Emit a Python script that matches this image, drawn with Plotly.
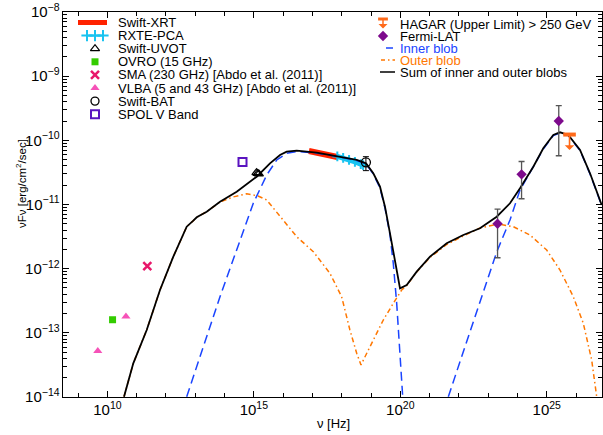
import numpy as np
import plotly.graph_objects as go

# ---------------- data ----------------
# Model curves, log10(nu/Hz) and log10(nuFnu / erg cm^-2 s^-1)
sum_log_nu = [10.567, 10.884, 11.342, 11.796, 12.250, 12.591, 12.707, 12.933, 13.049, 13.390, 13.844, 14.414,
              15.097, 15.551, 15.893, 16.121, 16.463, 17.146, 17.941, 18.512, 18.829, 19.078,
              19.307, 19.477, 19.648, 19.819, 19.990, 20.219, 20.560, 21.014, 21.584, 22.151,
              22.721, 23.291, 23.745, 24.087, 24.541, 24.882, 25.224, 25.453, 25.736, 26.136,
              26.477, 26.876]
sum_log_flux = [-13.995, -13.475, -12.956, -12.333, -11.813, -11.449, -11.346, -11.252, -11.199, -11.112, -10.956, -10.800,
                -10.567, -10.358, -10.228, -10.177, -10.161, -10.193, -10.255, -10.306, -10.358, -10.514,
                -10.722, -11.034, -11.449, -11.865, -12.306, -12.254, -12.047, -11.813, -11.605, -11.475,
                -11.370, -11.190, -10.981, -10.747, -10.411, -10.124, -9.917, -9.875, -9.917, -10.151,
                -10.514, -11.008]

inner_sync_log_nu = [12.707, 13.844, 14.981, 15.439, 15.780, 16.121, 16.463, 17.146, 17.941, 18.512,
                     18.829, 19.078, 19.307, 19.477, 19.648, 19.760, 19.877, 19.990, 20.082]
inner_sync_log_flux = [-13.995, -12.437, -10.981, -10.540, -10.306, -10.202, -10.174, -10.197, -10.260, -10.314,
                       -10.369, -10.525, -10.743, -11.054, -11.475, -11.916, -12.540, -13.319, -13.995]
inner_ic_log_nu = [21.639, 22.721, 23.291, 23.745, 24.087, 24.541, 24.882, 25.224, 25.453, 25.736,
                   26.136, 26.477, 26.876]
inner_ic_log_flux = [-13.995, -12.540, -11.740, -11.241, -10.774, -10.411, -10.135, -9.925, -9.886, -9.925,
                     -10.158, -10.524, -11.016]

outer_log_nu = [10.567, 10.884, 11.342, 11.796, 12.250, 12.591, 12.707, 12.933, 13.049, 13.390, 13.844, 14.288,
                14.756, 15.142, 15.439, 15.951, 16.463, 17.030, 17.597, 17.997, 18.280, 18.511,
                18.658, 18.965, 19.420, 19.761, 20.048, 20.219, 20.560, 21.014, 21.584, 22.151,
                22.721, 23.346, 23.858, 24.428, 24.998, 25.452, 25.906, 26.248, 26.534, 26.705]
outer_log_flux = [-13.995, -13.475, -12.956, -12.333, -11.813, -11.449, -11.346, -11.252, -11.199, -11.112, -10.961, -10.883,
                  -10.833, -10.867, -10.930, -11.215, -11.502, -11.735, -12.072, -12.437, -12.956, -13.319,
                  -13.501, -13.216, -12.800, -12.540, -12.332, -12.262, -12.052, -11.826, -11.623, -11.491,
                  -11.366, -11.304, -11.346, -11.475, -11.709, -12.021, -12.437, -12.851, -13.423, -13.995]

# Observations (nu in Hz, nuFnu in erg/cm^2/s)
xrt_nu = [7.59e16, 1.58e17, 3.16e17, 7.08e17]
xrt_flux = [6.82e-11, 6.46e-11, 6.03e-11, 5.50e-11]
pca_nu = [7.08e17, 1.12e18, 1.78e18, 2.82e18, 4.47e18, 5.37e18]
pca_flux = [5.62e-11, 5.31e-11, 4.95e-11, 4.62e-11, 4.27e-11, 4.12e-11]
uvot_nu = [1.23e15, 1.35e15, 1.48e15]
uvot_flux = [3.13e-11, 3.05e-11, 2.99e-11]
ovro_nu = [1.5e10]
ovro_flux = [1.6e-13]
sma_nu = [2.3e11]
sma_flux = [1.1e-12]
vlba_nu = [4.7e9, 4.3e10]
vlba_flux = [5.2e-14, 1.8e-13]
bat_nu = [6.7e18]
bat_flux = [4.55e-11]
bat_hi = [5.56e-11]
bat_lo = [3.37e-11]
spol_nu = [4.1e14]
spol_flux = [4.6e-11]
lat_nu = [2.09e23, 1.38e24, 2.57e25]
lat_flux = [5.0e-12, 2.95e-11, 2.0e-10]
lat_hi = [8.5e-12, 4.68e-11, 3.47e-10]
lat_lo = [1.48e-12, 1.23e-11, 5.75e-11]
hagar_nu = [6.0e25]
hagar_ul = [1.23e-10]

left_legend = ["Swift-XRT", "RXTE-PCA", "Swift-UVOT", "OVRO (15 GHz)",
               "SMA (230 GHz) [Abdo et al. (2011)]", "VLBA (5 and 43 GHz) [Abdo et al. (2011)]",
               "Swift-BAT", "SPOL V Band"]
right_legend = ["HAGAR (Upper Limit) > 250 GeV", "Fermi-LAT", "Inner blob", "Outer blob",
                "Sum of inner and outer blobs"]
x_title = "ν [Hz]"
y_title = "νFν [erg/cm<sup>2</sup>/sec]"

# ---------------- styles ----------------
RED = "#ff2200"
CYAN = "#19c3f0"
GREEN = "#33cc00"
MAGENTA = "#e8176a"
PINK = "#f652b8"
PURPLE_SQ = "#5a14c0"
ORANGE_UL = "#ff6a1a"
FERMI = "#7d0a8c"
BLUE = "#1a44ff"
ORANGE = "#ff7700"
FONT = "Liberation Sans, Arial, sans-serif"

W, H = 603, 435
L, R, T, B = 63, 1, 12, 38
X0, X1 = L, W - R
Y0, Y1 = T, H - B
PW, PH = X1 - X0, Y1 - Y0

def px2paper_x(px):
    return (px - X0) / PW

def px2paper_y(py):
    return 1 - (py - Y0) / PH

fig = go.Figure()

def p(v):
    return 10 ** np.array(v)

# data bands first
fig.add_trace(go.Scatter(x=xrt_nu, y=xrt_flux, mode="lines",
                         line=dict(color=RED, width=6), hoverinfo="skip"))
fig.add_trace(go.Scatter(x=pca_nu, y=pca_flux, mode="lines+markers",
                         line=dict(color=CYAN, width=5),
                         marker=dict(symbol="cross-thin-open", size=7, color=CYAN, line=dict(color=CYAN, width=2)),
                         hoverinfo="skip"))

# model curves
fig.add_trace(go.Scatter(x=p(outer_log_nu), y=p(outer_log_flux), mode="lines",
                         line=dict(color=ORANGE, width=1.5, dash="5px,3px,1.5px,3px"), hoverinfo="skip"))
fig.add_trace(go.Scatter(x=p(inner_sync_log_nu), y=p(inner_sync_log_flux), mode="lines",
                         line=dict(color=BLUE, width=1.5, dash="9px,5px"), hoverinfo="skip"))
fig.add_trace(go.Scatter(x=p(inner_ic_log_nu), y=p(inner_ic_log_flux), mode="lines",
                         line=dict(color=BLUE, width=1.5, dash="9px,5px"), hoverinfo="skip"))
fig.add_trace(go.Scatter(x=p(sum_log_nu), y=p(sum_log_flux), mode="lines",
                         line=dict(color="black", width=1.8), hoverinfo="skip"))

# points
fig.add_trace(go.Scatter(x=uvot_nu, y=uvot_flux, mode="markers",
                         marker=dict(symbol="triangle-up-open", size=8, color="black", line=dict(width=1.2))))
fig.add_trace(go.Scatter(x=ovro_nu, y=ovro_flux, mode="markers",
                         marker=dict(symbol="square", size=7, color=GREEN)))
fig.add_trace(go.Scatter(x=sma_nu, y=sma_flux, mode="markers",
                         marker=dict(symbol="x-thin-open", size=8, color=MAGENTA, line=dict(width=2.5, color=MAGENTA))))
fig.add_trace(go.Scatter(x=vlba_nu, y=vlba_flux, mode="markers",
                         marker=dict(symbol="triangle-up", size=8, color=PINK)))
fig.add_trace(go.Scatter(x=bat_nu, y=bat_flux, mode="markers",
                         marker=dict(symbol="circle-open", size=9, color="black", line=dict(width=1.3)),
                         error_y=dict(type="data", symmetric=False,
                                      array=[h - f for h, f in zip(bat_hi, bat_flux)],
                                      arrayminus=[f - l for f, l in zip(bat_flux, bat_lo)],
                                      color="black", thickness=1, width=3)))
fig.add_trace(go.Scatter(x=spol_nu, y=spol_flux, mode="markers",
                         marker=dict(symbol="square-open", size=8, color=PURPLE_SQ, line=dict(width=2))))
fig.add_trace(go.Scatter(x=lat_nu, y=lat_flux, mode="markers",
                         marker=dict(symbol="diamond", size=8, color=FERMI),
                         error_y=dict(type="data", symmetric=False,
                                      array=[h - f for h, f in zip(lat_hi, lat_flux)],
                                      arrayminus=[f - l for f, l in zip(lat_flux, lat_lo)],
                                      color="#555555", thickness=1.3, width=3)))
fig.add_trace(go.Scatter(x=hagar_nu, y=hagar_ul, mode="markers",
                         marker=dict(symbol="line-ew-open", size=9, color=ORANGE_UL,
                                     line=dict(width=4, color=ORANGE_UL))))

annotations = []
for nu, ul in zip(hagar_nu, hagar_ul):
    annotations.append(dict(x=np.log10(nu), y=np.log10(ul), xref="x", yref="y", text="",
                            showarrow=True, ax=0, ay=17, arrowside="start", arrowhead=2,
                            arrowsize=1, arrowwidth=1.6, arrowcolor=ORANGE_UL))

# ---------------- custom legends (pixel coordinates on helper axes) ----------------
LEG_FS = 13
lx_key, lx_text, ly0, ldy = 95, 116, 22.5, 13.1
rx_key, rx_text, ry0, rdy = 385, 398, 24, 12
lrows = [ly0 + ldy * i for i in range(len(left_legend))]
rrows = [ry0 + rdy * i for i in range(len(right_legend))]

def key(xs, ys, **kw):
    fig.add_trace(go.Scatter(x=xs, y=ys, xaxis="x2", yaxis="y2", hoverinfo="skip", **kw))

key([lx_key - 17, lx_key + 12], [lrows[0]] * 2, mode="lines", line=dict(color=RED, width=5))
key([lx_key - 8, lx_key, lx_key + 8], [lrows[1]] * 3, mode="lines+markers", line=dict(color=CYAN, width=2),
    marker=dict(symbol="cross-thin-open", size=8, color=CYAN, line=dict(color=CYAN, width=2)))
key([lx_key], [lrows[2]], mode="markers",
    marker=dict(symbol="triangle-up-open", size=8, color="black", line=dict(width=1.2)))
key([lx_key], [lrows[3]], mode="markers", marker=dict(symbol="square", size=7, color=GREEN))
key([lx_key], [lrows[4]], mode="markers",
    marker=dict(symbol="x-thin-open", size=8, color=MAGENTA, line=dict(width=2.5, color=MAGENTA)))
key([lx_key], [lrows[5]], mode="markers", marker=dict(symbol="triangle-up", size=8, color=PINK))
key([lx_key], [lrows[6]], mode="markers",
    marker=dict(symbol="circle-open", size=8, color="black", line=dict(width=1.3)))
key([lx_key], [lrows[7]], mode="markers",
    marker=dict(symbol="square-open", size=8, color=PURPLE_SQ, line=dict(width=2)))

key([rx_key - 2], [rrows[0] - 5], mode="markers",
    marker=dict(symbol="line-ew-open", size=7, color=ORANGE_UL, line=dict(width=3, color=ORANGE_UL)))
annotations.append(dict(x=rx_key - 2, y=rrows[0] - 5, xref="x2", yref="y2", text="", showarrow=True,
                        ax=0, ay=11, arrowside="start", arrowhead=2, arrowsize=0.8, arrowwidth=1.5,
                        arrowcolor=ORANGE_UL))
key([rx_key - 2], [rrows[1]], mode="markers", marker=dict(symbol="diamond", size=8, color=FERMI))
key([rx_key + 1, rx_key + 8], [rrows[2]] * 2, mode="lines", line=dict(color=BLUE, width=1.5))
key([rx_key - 4, rx_key + 10], [rrows[3]] * 2, mode="lines",
    line=dict(color=ORANGE, width=1.5, dash="4px,3px,1.5px,3px"))
key([rx_key - 5, rx_key + 10], [rrows[4]] * 2, mode="lines", line=dict(color="black", width=1.5))

for txt, yy in zip(left_legend, lrows):
    annotations.append(dict(x=lx_text, y=yy, xref="x2", yref="y2", text=txt, showarrow=False,
                            xanchor="left", yanchor="middle",
                            font=dict(size=LEG_FS, color="black", family=FONT)))
rcolors = ["black", "black", BLUE, ORANGE, "black"]
for txt, yy, c in zip(right_legend, rrows, rcolors):
    annotations.append(dict(x=rx_text, y=yy, xref="x2", yref="y2", text=txt, showarrow=False,
                            xanchor="left", yanchor="middle",
                            font=dict(size=LEG_FS, color=c, family=FONT)))

# axis titles placed like the reference
annotations.append(dict(x=px2paper_x(333), y=px2paper_y(424), xref="paper", yref="paper",
                        text=x_title, showarrow=False, xanchor="center", yanchor="middle",
                        font=dict(size=13, family=FONT, color="black")))
annotations.append(dict(x=px2paper_x(21), y=px2paper_y(184), xref="paper", yref="paper",
                        text=y_title, showarrow=False, textangle=-90, xanchor="center", yanchor="middle",
                        font=dict(size=11.5, family=FONT, color="black")))

fig.update_traces(showlegend=False)

x_lo = 10 + (X0 - 107.4) / 29.29
x_hi = 10 + (X1 - 107.4) / 29.29

fig.update_layout(
    width=W, height=H,
    margin=dict(l=L, r=R, t=T, b=B, pad=0),
    paper_bgcolor="white", plot_bgcolor="white",
    showlegend=False,
    font=dict(family=FONT, size=12, color="black"),
    xaxis=dict(type="log", range=[x_lo, x_hi], dtick=5, exponentformat="power",
               ticks="inside", ticklen=6, tickcolor="black", tickwidth=1,
               showline=True, linecolor="black", linewidth=1, mirror="ticks",
               showgrid=False, zeroline=False,
               minor=dict(dtick=1, ticks="inside", ticklen=4, tickcolor="black", showgrid=False),
               tickfont=dict(size=12)),
    yaxis=dict(type="log", range=[-14, -8], dtick=1, exponentformat="power",
               ticks="inside", ticklen=6, tickcolor="black", tickwidth=1,
               showline=True, linecolor="black", linewidth=1, mirror="ticks",
               showgrid=False, zeroline=False,
               minor=dict(dtick="D1", ticks="inside", ticklen=4, tickcolor="black", showgrid=False),
               tickfont=dict(size=12)),
    xaxis2=dict(overlaying="x", range=[X0, X1], visible=False, fixedrange=True),
    yaxis2=dict(overlaying="y", range=[Y1, Y0], visible=False, fixedrange=True),
    annotations=annotations,
)

fig.write_html("out.html", config={"displayModeBar": False},
               post_script="document.body.style.margin='0px';document.body.style.padding='0px';")
